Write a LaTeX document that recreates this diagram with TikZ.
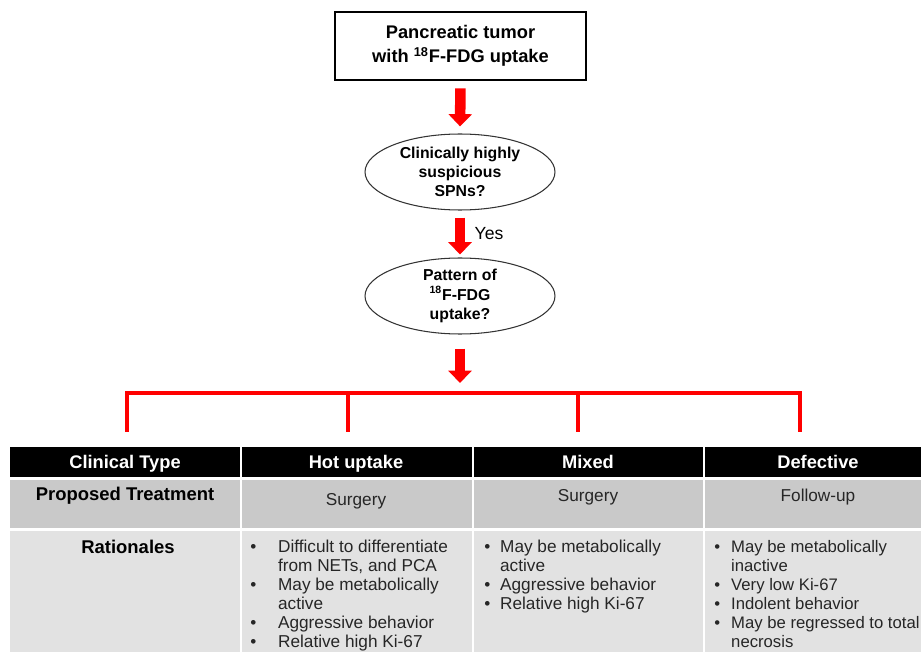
\documentclass[tikz,border=0pt]{standalone}
\usepackage{fontspec}
\setmainfont{Liberation Sans}
\usetikzlibrary{shapes.geometric,arrows.meta}

\definecolor{rowdark}{RGB}{201,201,201}
\definecolor{rowlight}{RGB}{226,226,226}

\begin{document}
\begin{tikzpicture}[x = 0.02cm, y = -0.02cm,
                    startbox/.style = {rectangle, draw, line width = 0.6pt, minimum width = 5.02cm, minimum height = 1.36cm, align = center, font = \fontsize{10.4}{13.6}\selectfont\bfseries},
                    ask/.style = {ellipse, draw = black!80, line width = 0.6pt, minimum width = 3.8cm, minimum height = 1.52cm, inner sep = 0pt, align = center, font = \fontsize{9}{11}\selectfont\bfseries},
                    flow/.style = {red, line width = 6pt, -{Triangle[width = 13pt, length = 7pt]}},
                    branch/.style = {red, line width = 2.2pt},
                    headtext/.style = {white, text height = 1.6ex, text depth = 0.4ex, font = \fontsize{10.4}{12}\selectfont\bfseries},
                    rowhead/.style = {font = \fontsize{10.5}{12}\selectfont\bfseries},
                    celltext/.style = {text = black!85, text height = 1.6ex, text depth = 0.4ex, font = \fontsize{9.8}{10.9}\selectfont},
                    bullets/.style = {text = black!85, font = \fontsize{9.8}{10.9}\selectfont, inner sep = 0pt, anchor = base west}]

\useasboundingbox (0,0) rectangle (921,652);
\clip (0,0) rectangle (921,652);

% flow chart
\node [startbox] (tumor) at (460.5,46) {Pancreatic tumor \\ with \textsuperscript{18}F-FDG uptake};
\node [ask] (q1) at (460,172) {Clinically highly \\ suspicious \\ SPNs?};
\node [ask] (q2) at (460,296) {Pattern of \\ \textsuperscript{18}F-FDG \\ uptake?};
\node at (489,234) (yes) {\fontsize{10}{12}\selectfont Yes};

\coordinate (split) at (460,393);
\coordinate (b1) at (127,432);
\coordinate (b2) at (348,432);
\coordinate (b3) at (578,432);
\coordinate (b4) at (800,432);

\draw[flow, shorten <= 4.5pt, shorten >= 4pt] (tumor.south) -- (q1.north);
\draw[flow, shorten <= 4pt, shorten >= 1.7pt] (q1.south) -- (q2.north);
\draw[flow, shorten <= 8pt, shorten >= 5.7pt] (q2.south) -- (split);

\draw[branch] (b1) -- (b1 |- split) -- (b4 |- split) -- (b4);
\draw[branch] (b2) -- (b2 |- split);
\draw[branch] (b3) -- (b3 |- split);

% table rows
\fill[black] (10,447) rectangle (240,477);
\fill[black] (242,447) rectangle (472,477);
\fill[black] (474,447) rectangle (703,477);
\fill[black] (705,447) rectangle (921,477);

\fill[rowdark] (10,480) rectangle (240,528);
\fill[rowdark] (242,480) rectangle (472,528);
\fill[rowdark] (474,480) rectangle (703,528);
\fill[rowdark] (705,480) rectangle (921,528);

\fill[rowlight] (10,531) rectangle (240,652);
\fill[rowlight] (242,531) rectangle (472,652);
\fill[rowlight] (474,531) rectangle (703,652);
\fill[rowlight] (705,531) rectangle (921,652);

% header
\node [headtext] (ctype) at (125,463) {Clinical Type};
\node [headtext] (hot) at (356,463) {Hot uptake};
\node [headtext] (mixed) at (588,463) {Mixed};
\node [headtext] (defect) at (818,463) {Defective};

% proposed treatment
\node [rowhead] (treat) at (125,496) {Proposed Treatment};
\node [celltext] (surg1) at (356,500) {Surgery};
\node [celltext] (surg2) at (588,496) {Surgery};
\node [celltext] (follow) at (818,496) {Follow-up};

% rationales
\node [rowhead] (ration) at (128,547) {Rationales};

\node [bullets] (hotlist) at (250,552) {\begin{tabular}[t]{@{}p{15.8pt}@{}l@{}}
  • & Difficult to differentiate \\
    & from NETs, and PCA \\
  • & May be metabolically \\
    & active \\
  • & Aggressive behavior \\
  • & Relative high Ki-67
\end{tabular}};

\node [bullets] (mixlist) at (484,552) {\begin{tabular}[t]{@{}p{9pt}@{}l@{}}
  • & May be metabolically \\
    & active \\
  • & Aggressive behavior \\
  • & Relative high Ki-67
\end{tabular}};

\node [bullets, font = \fontsize{9.5}{10.9}\selectfont] (deflist) at (714,552) {\begin{tabular}[t]{@{}p{9.6pt}@{}l@{}}
  • & May be metabolically \\
    & inactive \\
  • & Very low Ki-67 \\
  • & Indolent behavior \\
  • & May be regressed to total \\
    & necrosis
\end{tabular}};

\end{tikzpicture}
\end{document}
